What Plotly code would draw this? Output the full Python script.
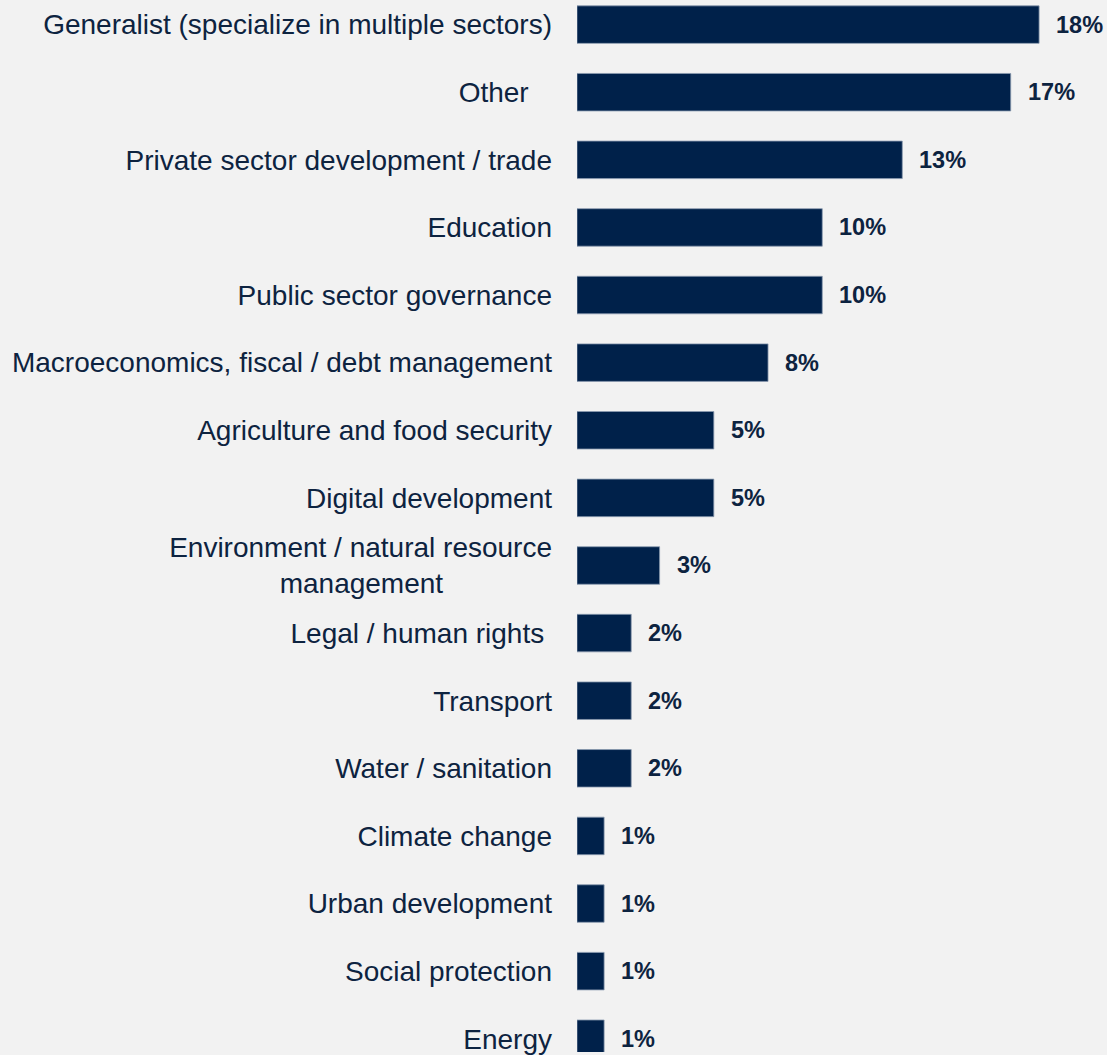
import plotly.graph_objects as go

NBSP = "\u00a0"

categories = [
    "Generalist (specialize in multiple sectors)",
    "Other" + NBSP * 3,
    "Private sector development / trade",
    "Education",
    "Public sector governance",
    "Macroeconomics, fiscal / debt management",
    "Agriculture and food security",
    "Digital development",
    "Environment / natural resource<br>management" + NBSP * 14,
    "Legal / human rights" + NBSP,
    "Transport",
    "Water / sanitation",
    "Climate change",
    "Urban development",
    "Social protection",
    "Energy",
]
values = [17.9, 16.8, 12.6, 9.5, 9.5, 7.4, 5.3, 5.3, 3.2, 2.1, 2.1, 2.1, 1.05, 1.05, 1.05, 1.05]
value_labels = ["18%", "17%", "13%", "10%", "10%", "8%", "5%", "5%", "3%", "2%", "2%", "2%", "1%", "1%", "1%", "1%"]

BAR = "#00214a"
TXT = "#0d2340"
BG = "#f2f2f2"

fig = go.Figure()
fig.add_trace(go.Bar(
    x=values,
    y=list(range(len(categories))),
    orientation="h",
    width=0.555,
    marker=dict(color=BAR, line=dict(color="#8a9bb0", width=0.8)),
    hoverinfo="skip",
))

for i, (v, lab) in enumerate(zip(values, value_labels)):
    fig.add_annotation(
        x=v, y=i, xref="x", yref="y", text="<b>" + lab + "</b>",
        showarrow=False, xanchor="left", yanchor="middle", xshift=15,
        font=dict(family="Liberation Sans, Arial, sans-serif", size=23.5, color=TXT),
    )

fig.update_layout(
    width=1107, height=1055,
    margin=dict(l=577, r=0, t=0, b=0),
    paper_bgcolor=BG, plot_bgcolor=BG,
    showlegend=False,
    xaxis=dict(range=[0, 20.53], visible=False, fixedrange=True),
    yaxis=dict(
        range=[15.196, -0.364],
        tickmode="array",
        tickvals=list(range(len(categories))),
        ticktext=categories,
        showgrid=False, zeroline=False, showline=False, fixedrange=True,
        ticks="", ticklabelstandoff=24, ticklabeloverflow="allow",
        tickfont=dict(family="Liberation Sans, Arial, sans-serif", size=28, color=TXT),
    ),
)

fig.write_html(
    "out.html",
    config={"displayModeBar": False},
    post_script="document.body.style.margin='0';document.body.style.background='#f2f2f2';",
)
